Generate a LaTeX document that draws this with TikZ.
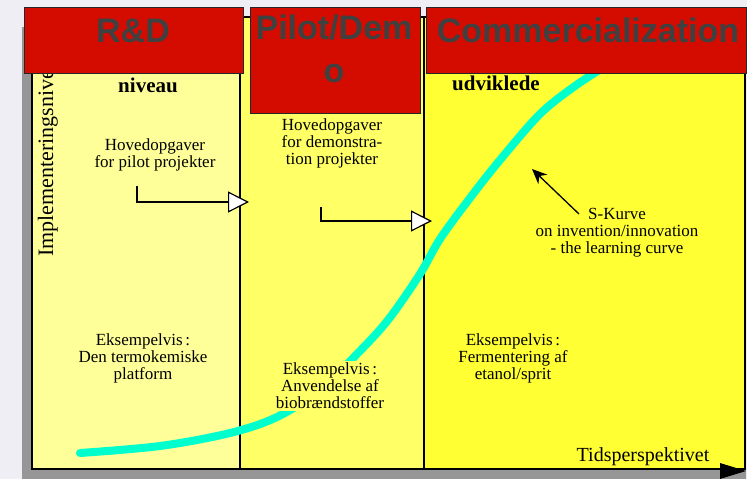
\documentclass[tikz,border=0pt]{standalone}
\usepackage{fontspec}
\setmainfont{Liberation Serif}
\newfontfamily\hdrfont{Liberation Sans}
\usetikzlibrary{arrows.meta}
\definecolor{bgc}{RGB}{238,238,244}
\definecolor{pa}{RGB}{255,255,153}
\definecolor{pb}{RGB}{255,255,102}
\definecolor{pc}{RGB}{255,255,51}
\definecolor{hred}{RGB}{212,12,0}
\definecolor{htxt}{RGB}{64,64,64}
\definecolor{curvec}{RGB}{0,255,204}
\definecolor{shadec}{RGB}{150,150,150}
\begin{document}
\begin{tikzpicture}[x=1pt,y=-1pt,
  panel/.style={draw=black,line width=1.3pt},
  header/.style={draw=black!85,line width=0.8pt,fill=hred,inner sep=0},
  htext/.style={font=\hdrfont\bfseries\fontsize{34}{43}\selectfont,text=htxt,align=center,inner sep=0},
  body/.style={font=\fontsize{17}{17}\selectfont,align=center,inner sep=1pt},
  boldtxt/.style={font=\bfseries\fontsize{21}{21}\selectfont,inner sep=0},
  elbow/.style={line width=1.2pt,-{Triangle[length=21pt,width=21pt,fill=white]}},
  scurve/.style={line width=8pt,draw=curvec,line cap=round,line join=round}]
\useasboundingbox (0,0) rectangle (747,479);
\fill[bgc] (0,0) rectangle (747,479);
% shadow
\fill[shadec] (22,27) rectangle (746,479);
% panels
\path[panel,fill=pa] (32,17) rectangle (240,469);
\path[panel,fill=pb] (240,17) rectangle (424,469);
\path[panel,fill=pc] (424,17) rectangle (745,469);
% S-curve
\draw[scurve] plot[smooth,tension=0.55] coordinates {(80,453) (160,446) (230,433) (277,417) (320,390) (358,353) (388,320) (420,274) (440,239) (470,198) (500,160) (540,114) (575,86) (612,62)};
% texts
\node[font=\fontsize{22}{22}\selectfont,rotate=90,anchor=base west,inner sep=0] (yaxis) at (53,257) {Implementeringsniveau};
\node[boldtxt] (niv) at (148,85) {niveau};
\node[boldtxt] (udv) at (496,83) {udviklede};
\node[body] (hov1) at (155,155) {Hovedopgaver\\for pilot projekter};
\node[body] (hov2) at (332,143) {Hovedopgaver\\for demonstra-\\tion projekter};
\node[body] (eks1) at (143,358) {Eksempelvis\,:\\Den termokemiske\\platform};
\node[body,fill=pb,inner sep=2pt] (eks2) at (330,386) {Eksempelvis\,:\\Anvendelse af\\biobrændstoffer};
\node[body] (eks3) at (513,358) {Eksempelvis\,:\\Fermentering af\\etanol/sprit};
\node[body] (skurve) at (617,233) {S-Kurve\\on invention/innovation\\- the learning curve};
\node[font=\fontsize{20}{20}\selectfont,inner sep=0] (tids) at (643,457) {Tidsperspektivet};
% elbow arrows
\coordinate (e1s) at (137,186);
\coordinate (e1e) at (249,202);
\coordinate (e2s) at (321,207);
\coordinate (e2e) at (432,221);
\draw[elbow] (e1s) |- (e1e);
\draw[elbow] (e2s) |- (e2e);
% S-Kurve pointer
\coordinate (skt) at (579,214);
\coordinate (skh) at (532,169);
\draw[line width=1.3pt,-{Stealth[length=15pt,width=13pt]}] (skt) -- (skh);
% time axis head
\fill[black] (720,463) -- (746,471) -- (720,479) -- cycle;
% headers
\node[header,minimum width=219pt,minimum height=66pt] (h1) at (133.5,40) {};
\node[header,minimum width=170pt,minimum height=106pt] (h2) at (335,60) {};
\node[header,minimum width=320pt,minimum height=66pt] (h3) at (586,40) {};
\node[htext,anchor=base] (t1) at (133,42) {R\&D};
\node[htext,anchor=base] (t2) at (334,82) {Pilot/Dem\\o};
\node[htext,anchor=base] (t3) at (588,42) {Commercialization};
\end{tikzpicture}
\end{document}
